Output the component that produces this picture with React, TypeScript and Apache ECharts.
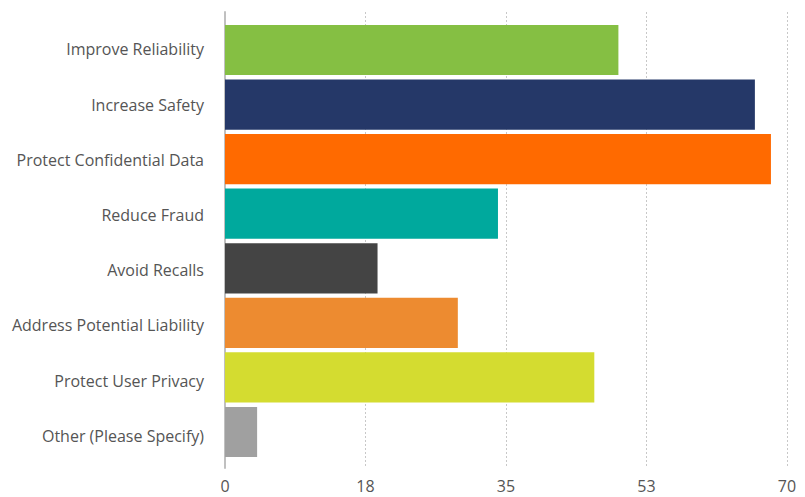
import React, { useEffect, useRef } from "react";
import * as echarts from "echarts";

const categories = [
  "Improve Reliability",
  "Increase Safety",
  "Protect Confidential Data",
  "Reduce Fraud",
  "Avoid Recalls",
  "Address Potential Liability",
  "Protect User Privacy",
  "Other (Please Specify)",
];
const values = [49, 66, 68, 34, 19, 29, 46, 4];
const colors = ["#85bf43", "#253868", "#ff6a00", "#00a99d", "#444444", "#ed8b30", "#d4dc30", "#a0a0a0"];
const axisMin = 0;
const axisMax = 70;
const axisInterval = 17.5;

export default function App() {
  const ref = useRef<HTMLDivElement>(null);
  useEffect(() => {
    const chart = echarts.init(ref.current!, null, { renderer: "svg" });
    const font = "'Open Sans', sans-serif";
    chart.setOption({
      animation: false,
      grid: [
        { left: 225, right: 18, top: 22.7, bottom: 497 - 459.3 },
        { left: 225, right: 18, top: 12, bottom: 29 },
        { left: 225, right: 18, top: 21.7, bottom: 497 - 463.3 },
      ],
      xAxis: [
        {
          gridIndex: 0,
          type: "value",
          min: axisMin,
          max: axisMax,
          interval: axisInterval,
          show: false,
        },
        {
          gridIndex: 1,
          type: "value",
          min: axisMin,
          max: axisMax,
          interval: axisInterval,
          axisLine: { show: false },
          axisTick: { show: false },
          axisLabel: {
            color: "#555555",
            fontFamily: font,
            fontSize: 16,
            margin: 10,
            formatter: (v: number) => String(Math.round(v)),
          },
          splitLine: {
            show: true,
            lineStyle: { color: "#c8c8c8", type: [2, 2], width: 1 },
          },
        },
        {
          gridIndex: 2,
          type: "value",
          min: axisMin,
          max: axisMax,
          show: false,
        },
      ],
      yAxis: [
        {
          gridIndex: 0,
          type: "category",
          data: categories,
          inverse: true,
          show: false,
        },
        {
          gridIndex: 1,
          type: "value",
          min: 0,
          max: 1,
          axisLine: { show: true, lineStyle: { color: "#c0c0c0", width: 2 } },
          axisTick: { show: false },
          axisLabel: { show: false },
          splitLine: { show: false },
        },
        {
          gridIndex: 2,
          type: "category",
          data: categories,
          inverse: true,
          axisLine: { show: false },
          axisTick: { show: false },
          axisLabel: {
            color: "#555555",
            fontFamily: font,
            fontSize: 16,
            margin: 21,
          },
        },
      ],
      series: [
        {
          type: "bar",
          xAxisIndex: 0,
          yAxisIndex: 0,
          data: values.map((v, i) => ({ value: v, itemStyle: { color: colors[i] } })),
          barCategoryGap: "8%",
        },
      ],
    });
    return () => chart.dispose();
  }, []);
  return (
    <div
      ref={ref}
      style={{ position: "fixed", left: 0, top: 0, width: 805, height: 497, background: "#fff" }}
    />
  );
}
